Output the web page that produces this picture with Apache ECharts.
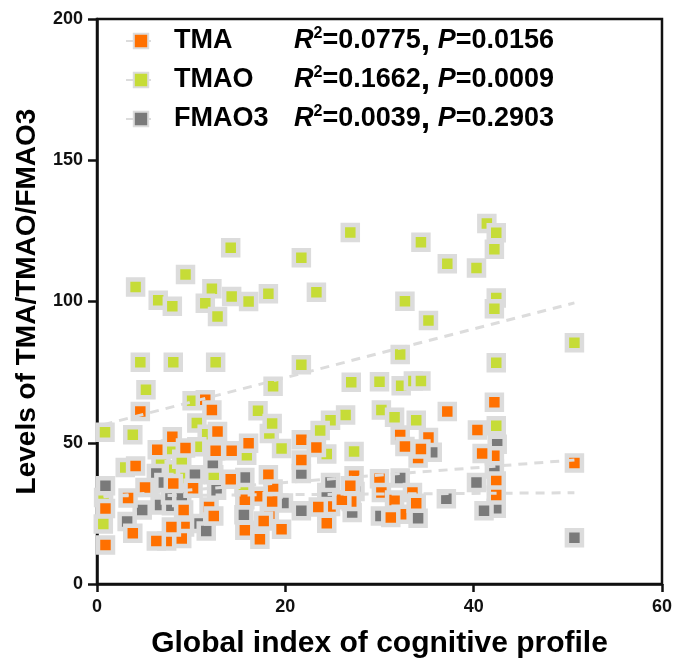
<!DOCTYPE html>
<html>
<head>
<meta charset="utf-8">
<script src="https://cdn.jsdelivr.net/npm/echarts@6/dist/echarts.min.js"></script>
<style>html,body{margin:0;padding:0;background:#fff}#c{width:675px;height:668px}</style>
</head>
<body>
<div id="c"></div>
<script>
const seriesNames = ['TMA', 'TMAO', 'FMAO3'];
const statsR2 = ['0.0775', '0.1662', '0.0039'];
const statsP = ['0.0156', '0.0009', '0.2903'];
const xTicks = [0, 20, 40, 60];
const yTicks = [0, 50, 100, 150, 200];

const tmaoPoints = [
  [14.2,119.0],[9.4,109.6],[4.1,105.1],[6.5,100.4],[8.0,98.3],[12.2,104.5],[11.5,99.4],[12.8,94.7],
  [14.3,101.8],[16.1,100.0],[18.2,102.7],[4.6,78.5],[8.1,78.5],[12.6,78.5],[5.2,68.8],[18.7,70.0],
  [10.1,64.9],[17.1,61.3],[10.6,57.0],[26.9,124.4],[34.4,121.0],[21.7,115.5],[37.2,113.4],[40.3,111.9],
  [23.3,103.3],[32.7,100.1],[35.2,93.3],[32.2,81.2],[21.7,77.6],[27.0,71.4],[30.0,71.6],[32.3,70.2],
  [33.6,71.9],[34.4,71.9],[26.4,59.8],[24.8,58.0],[30.2,61.6],[31.6,59.0],[33.9,58.0],[41.4,127.6],
  [42.4,124.3],[42.2,118.5],[42.4,101.2],[42.2,97.4],[50.7,85.4],[42.4,78.3],[0.85,53.7],[3.8,52.8],
  [18.3,53.3],[19.6,48.0],[6.8,42.7],[12.4,38.7],[0.67,21.2],[3.0,41.2],[11.7,53.0],[10.6,48.6],
  [7.8,47.8],[8.2,40.4],[15.9,45.6],[15.6,34.4],[18.6,56.8],[9.4,37.5],[0.7,30.6],[9.0,44.2],
  [23.7,54.3],[24.4,46.0],[27.3,46.9],[42.4,56.0]
];
const fmaoPoints = [
  [12.3,42.8],[10.4,38.7],[4.8,26.2],[6.7,28.0],[7.9,27.7],[10.7,21.4],[11.6,18.8],[15.6,24.5],
  [19.8,28.7],[12.7,33.2],[3.2,22.1],[15.7,37.7],[0.9,34.8],[6.3,39.1],[7.8,31.5],[9.0,30.6],
  [7.1,35.9],[21.7,39.1],[24.4,32.4],[21.7,25.9],[30.1,24.1],[34.1,23.3],[32.2,37.5],[37.1,30.2],
  [40.3,35.9],[27.1,25.3],[24.8,35.9],[35.6,46.6],[27.4,32.7],[42.4,26.8],[41.1,25.9],[50.7,16.4],
  [42.5,49.5],[42.2,40.7]
];
const tmaPoints = [
  [4.6,61.1],[11.5,65.2],[12.2,61.6],[37.2,61.1],[42.2,64.3],[12.8,54.0],[8.0,52.1],[6.4,47.5],
  [9.4,48.1],[12.6,47.2],[14.3,47.2],[16.1,49.8],[4.1,41.8],[5.1,34.2],[8.1,35.6],[10.2,33.9],
  [14.2,37.1],[18.2,38.7],[18.7,33.6],[17.1,31.1],[3.3,30.4],[0.9,26.7],[11.9,27.3],[9.2,26.2],
  [18.3,24.9],[3.8,18.0],[9.3,20.2],[7.4,15.2],[9.0,16.1],[7.9,20.2],[15.7,19.0],[17.3,15.8],
  [19.6,19.4],[0.9,13.8],[18.6,29.2],[15.7,29.8],[12.4,24.1],[17.7,22.3],[6.3,15.2],[21.7,51.1],
  [23.3,48.3],[21.7,43.9],[27.3,38.3],[32.2,52.7],[35.2,51.9],[34.1,44.6],[30.0,37.3],[30.2,32.4],
  [33.5,32.4],[31.6,29.7],[24.8,27.4],[27.0,29.2],[23.5,27.3],[24.4,21.5],[32.3,24.7],[26.0,29.8],
  [40.4,54.5],[32.7,48.7],[34.4,47.8],[26.9,34.8],[33.9,28.6],[31.2,23.5],[42.2,45.4],[40.9,46.2],
  [42.4,36.5],[42.4,31.5],[50.7,42.8]
];
const tmaFit = [[0.7, 30.9], [50.7, 43.9]];
const tmaoFit = [[0.7, 56.4], [50.7, 99.5]];
const fmaoFit = [[0.7, 31.2], [50.7, 32.3]];

const colors = { TMA: '#FF7000', TMAO: '#C6DC37', FMAO3: '#7A7A7A' };
const edge = '#DCDCDC';
const FONT = '"Liberation Sans", Arial, Helvetica, sans-serif';

const chart = echarts.init(document.getElementById('c'), null, { renderer: 'canvas' });

function fitSeries(name, data) {
  return {
    name: name, type: 'line', data: data, z: 4, silent: true,
    showSymbol: false, symbol: 'rect',
    itemStyle: { color: colors[name], borderColor: edge, borderWidth: 4 },
    lineStyle: { color: edge, width: 3, type: [9, 7] },
    animation: false
  };
}
function pointSeries(name, data) {
  return {
    name: name, type: 'scatter', data: data, symbol: 'rect', symbolSize: 15, z: 2,
    itemStyle: { color: colors[name], borderColor: edge, borderWidth: 4.5, opacity: 1 },
    animation: false
  };
}

const option = {
  backgroundColor: '#fff',
  animation: false,
  grid: { left: 97, right: 13, top: 19, bottom: 84, show: true, borderColor: '#111', borderWidth: 2.5, backgroundColor: 'transparent' },
  legend: {
    data: seriesNames,
    orient: 'vertical', left: 120, top: 19, itemWidth: 30, itemHeight: 18, itemGap: 5,
    selectedMode: false,
    formatter: function (name) {
      const i = seriesNames.indexOf(name);
      return '{n|' + name + '}{r|R}{s|2}{t|=' + statsR2[i] + '}{c|,}{p| P}{t|=' + statsP[i] + '}';
    },
    textStyle: {
      fontFamily: FONT, color: '#000', lineHeight: 30,
      rich: {
        n: { fontFamily: FONT, fontSize: 27, fontWeight: 'bold', color: '#000', width: 120, padding: [0, 0, 0, 13], lineHeight: 30 },
        r: { fontFamily: FONT, fontSize: 27, fontWeight: 'bold', fontStyle: 'italic', color: '#000', lineHeight: 30 },
        s: { fontFamily: FONT, fontSize: 16, fontWeight: 'bold', color: '#000', verticalAlign: 'top', lineHeight: 20 },
        t: { fontFamily: FONT, fontSize: 27, fontWeight: 'bold', color: '#000', lineHeight: 30 },
        c: { fontFamily: FONT, fontSize: 34, fontWeight: 'bold', color: '#000', lineHeight: 30 },
        p: { fontFamily: FONT, fontSize: 27, fontWeight: 'bold', fontStyle: 'italic', color: '#000', lineHeight: 30 }
      }
    }
  },
  xAxis: {
    type: 'value', min: xTicks[0], max: xTicks[xTicks.length - 1], interval: 20,
    name: 'Global index of cognitive profile', nameLocation: 'middle', nameGap: 45, nameMoveOverlap: false,
    nameTextStyle: { fontFamily: FONT, fontSize: 30, fontWeight: 'bold', color: '#000' },
    axisLine: { show: true, onZero: false, lineStyle: { color: '#111', width: 2.5 } },
    axisTick: { show: true, inside: false, length: 8, lineStyle: { color: '#111', width: 2.5 } },
    axisLabel: { fontFamily: FONT, fontSize: 18, fontWeight: 'bold', color: '#111', margin: 14 },
    splitLine: { show: false }
  },
  yAxis: {
    type: 'value', min: yTicks[0], max: yTicks[yTicks.length - 1], interval: 50,
    name: 'Levels of TMA/TMAO/FMAO3', nameLocation: 'middle', nameGap: 56, nameRotate: 90,
    nameTextStyle: { fontFamily: FONT, fontSize: 28, fontWeight: 'bold', color: '#000' },
    axisLine: { show: true, onZero: false, lineStyle: { color: '#111', width: 2.5 } },
    axisTick: { show: true, inside: false, length: 9, lineStyle: { color: '#111', width: 2.5 } },
    axisLabel: { fontFamily: FONT, fontSize: 18, fontWeight: 'bold', color: '#111', margin: 14 },
    splitLine: { show: false }
  },
  series: [
    fitSeries('TMA', tmaFit),
    fitSeries('TMAO', tmaoFit),
    fitSeries('FMAO3', fmaoFit),
    pointSeries('TMAO', tmaoPoints),
    pointSeries('FMAO3', fmaoPoints),
    pointSeries('TMA', tmaPoints)
  ]
};
chart.setOption(option);
</script>
</body>
</html>
